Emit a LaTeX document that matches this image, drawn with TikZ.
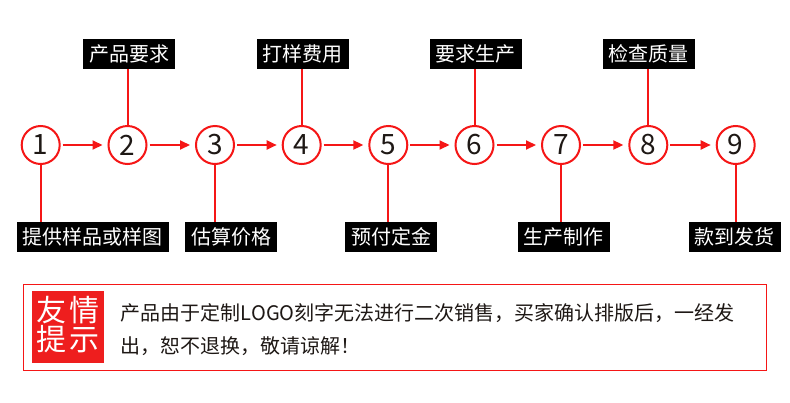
\documentclass[tikz,border=0pt]{standalone}
\usepackage{fontspec}
\setmainfont{Noto Sans CJK SC}
\usetikzlibrary{arrows.meta}
\definecolor{myred}{RGB}{245,22,22}
\definecolor{sqred}{RGB}{238,30,30}
\definecolor{ink}{RGB}{30,24,21}
\begin{document}
\begin{tikzpicture}[x=1pt,y=-1pt,
  circ/.style={circle,draw=myred,line width=2pt,minimum size=38pt,inner sep=0pt,text=ink,font=\fontsize{28}{28}\selectfont},
  lab/.style={fill=black,text=white,minimum height=30pt,inner xsep=6pt,inner ysep=0pt,font=\fontsize{20}{20}\selectfont},
  arr/.style={draw=myred,line width=2pt,-{Triangle[length=10pt,width=9pt]},shorten <=2pt,shorten >=5pt},
  ln/.style={draw=myred,line width=2pt},
  body/.style={anchor=west,inner sep=0pt,text=ink,font=\fontsize{20}{20}\selectfont},
  tip/.style={inner sep=0pt,text=white,font=\fontsize{30}{30}\selectfont}]
\fill[white] (0,0) rectangle (790,402);
\useasboundingbox (0,0) rectangle (790,402);
% circles
\node[circ] (c1) at (40.7,145) {1};
\node[circ] (c2) at (127.5,145) {2};
\node[circ] (c3) at (215,145) {3};
\node[circ] (c4) at (301.7,145) {4};
\node[circ] (c5) at (388.3,145) {5};
\node[circ] (c6) at (474.5,145) {6};
\node[circ] (c7) at (561,145) {7};
\node[circ] (c8) at (648.3,145) {8};
\node[circ] (c9) at (735.7,145) {9};
% arrows
\draw[arr] (c1) -- (c2);
\draw[arr] (c2) -- (c3);
\draw[arr] (c3) -- (c4);
\draw[arr] (c4) -- (c5);
\draw[arr] (c5) -- (c6);
\draw[arr] (c6) -- (c7);
\draw[arr] (c7) -- (c8);
\draw[arr] (c8) -- (c9);
% top labels
\node[lab] (t2) at (129.2,54) {产品要求};
\node[lab] (t4) at (302.8,54) {打样费用};
\node[lab] (t6) at (475.8,54) {要求生产};
\node[lab] (t8) at (648.8,54) {检查质量};
\draw[ln] (c2.north) -- (c2.north |- t2.south);
\draw[ln] (c4.north) -- (c4.north |- t4.south);
\draw[ln] (c6.north) -- (c6.north |- t6.south);
\draw[ln] (c8.north) -- (c8.north |- t8.south);
% bottom labels
\node[lab] (b1) at (92.9,236.7) {提供样品或样图};
\node[lab] (b3) at (231,236.7) {估算价格};
\node[lab] (b5) at (391.3,236.7) {预付定金};
\node[lab] (b7) at (563.8,236.7) {生产制作};
\node[lab] (b9) at (734.5,236.7) {款到发货};
\draw[ln] (c1.south) -- (c1.south |- b1.north);
\draw[ln] (c3.south) -- (c3.south |- b3.north);
\draw[ln] (c5.south) -- (c5.south |- b5.north);
\draw[ln] (c7.south) -- (c7.south |- b7.north);
\draw[ln] (c9.south) -- (c9.south |- b9.north);
% notice box
\draw[myred,line width=1.2pt] (23.3,284.3) rectangle (766.7,370.7);
\fill[sqred] (31.7,291) rectangle (104,362.7);
\node[tip] (tp1) at (68,310.5) {友\hspace{3pt}情};
\node[tip] (tp2) at (68,339) {提\hspace{3pt}示};
\node[body] (l1) at (120.7,313.3) {产品由于定制LOGO刻字无法进行二次销售，买家确认排版后，一经发};
\node[body] (l2) at (120.7,346) {出，恕不退换，敬请谅解！};
\end{tikzpicture}
\end{document}
